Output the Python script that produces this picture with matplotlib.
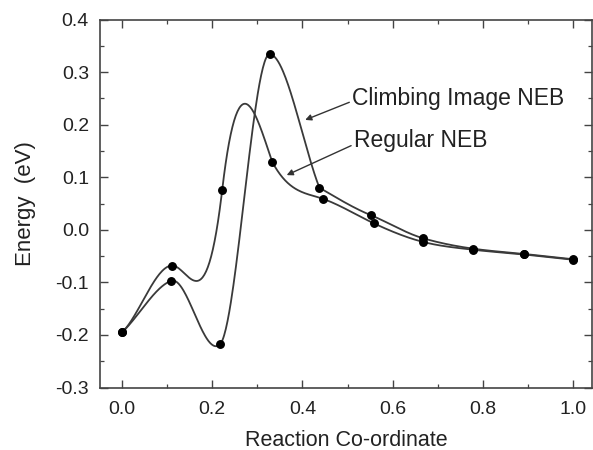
import numpy as np
import matplotlib
matplotlib.use("Agg")
import matplotlib.pyplot as plt
from matplotlib.ticker import MultipleLocator

# ---- data ----
# image positions, energies and tangential slopes (arriving / leaving each image)
ci_x = [0.0, 0.109, 0.217, 0.327, 0.4375, 0.551, 0.667, 0.779, 0.891, 1.0]
ci_energy = [-0.195, -0.097, -0.218, 0.334, 0.080, 0.028, -0.016, -0.036, -0.046, -0.056]
ci_slope_in = [0.8, 0.3, 0.8, 0.0, -2.2, -0.35, -0.25, -0.12, -0.085, -0.09]
ci_slope_out = [0.8, 0.3, 0.8, 0.0, -0.5, -0.35, -0.25, -0.12, -0.085, -0.09]

reg_x = [0.0, 0.111, 0.222, 0.333, 0.445, 0.559, 0.667, 0.779, 0.891, 1.0]
reg_energy = [-0.195, -0.068, 0.076, 0.129, 0.059, 0.012, -0.023, -0.038, -0.047, -0.057]
reg_slope_in = [0.8, 0.0, 7.3, -2.5, -0.3, -0.4, -0.22, -0.1, -0.085, -0.09]
reg_slope_out = [0.8, 0.0, 7.3, -1.6, -0.3, -0.4, -0.22, -0.1, -0.085, -0.09]

x_ticks = [0.0, 0.2, 0.4, 0.6, 0.8, 1.0]
y_ticks = [-0.3, -0.2, -0.1, 0.0, 0.1, 0.2, 0.3, 0.4]


def hermite_path(xs, ys, m_in, m_out, n=60):
    """Cubic Hermite curve through images using energies and tangential slopes."""
    px, py = [], []
    for i in range(len(xs) - 1):
        x0, x1 = xs[i], xs[i + 1]
        h = x1 - x0
        t = np.linspace(0, 1, n)
        h00 = 2 * t**3 - 3 * t**2 + 1
        h10 = t**3 - 2 * t**2 + t
        h01 = -2 * t**3 + 3 * t**2
        h11 = t**3 - t**2
        y = h00 * ys[i] + h10 * h * m_out[i] + h01 * ys[i + 1] + h11 * h * m_in[i + 1]
        px.extend(x0 + t * h)
        py.extend(y)
    return np.array(px), np.array(py)


plt.rcParams['font.family'] = ['Liberation Sans', 'DejaVu Sans']

fig = plt.figure(figsize=(5.93, 4.5), dpi=100)
ax = fig.add_axes([100 / 593, 1 - 387.5 / 450, 492 / 593, 368 / 450])

line_col = '#3a3a3a'
for xs, ys, mi, mo in [(ci_x, ci_energy, ci_slope_in, ci_slope_out),
                       (reg_x, reg_energy, reg_slope_in, reg_slope_out)]:
    cx, cy = hermite_path(xs, ys, mi, mo)
    ax.plot(cx, cy, color=line_col, lw=1.3, zorder=2)
    ax.plot(xs, ys, 'o', color='black', ms=5.4, zorder=3)

ax.set_xlim(-0.049, 1.042)
ax.set_ylim(-0.3, 0.4)
ax.set_xticks(x_ticks)
ax.set_yticks(y_ticks)
ax.set_xticklabels([f"{v:.1f}" for v in x_ticks])
ax.set_yticklabels([f"{v:.1f}" for v in y_ticks])
ax.xaxis.set_minor_locator(MultipleLocator(0.1))
ax.yaxis.set_minor_locator(MultipleLocator(0.05))
ax.tick_params(which='both', direction='in', top=True, right=True, color='#444444')
ax.tick_params(which='major', length=6, width=1.0)
ax.tick_params(which='minor', length=3, width=0.9)
ax.tick_params(axis='x', labelsize=14, pad=10, labelcolor='#222222')
ax.tick_params(axis='y', labelsize=14, pad=8, labelcolor='#222222')
for s in ax.spines.values():
    s.set_linewidth(1.2)
    s.set_color('#444444')

ax.set_xlabel('Reaction Co-ordinate', fontsize=15.5, color='#222222', labelpad=8)
ax.set_ylabel('Energy  (eV)', fontsize=16, color='#222222', labelpad=14)

arrow_kw = dict(arrowstyle='-|>', color='#333333', lw=1.0, mutation_scale=9,
                shrinkA=0, shrinkB=0)
ax.annotate('Climbing Image NEB', xy=(0.406, 0.209), xytext=(0.51, 0.249),
            fontsize=16.5, color='#222222', va='center', ha='left',
            arrowprops=dict(**arrow_kw, relpos=(0, 0.4)))
ax.annotate('Regular NEB', xy=(0.365, 0.104), xytext=(0.514, 0.169),
            fontsize=16.5, color='#222222', va='center', ha='left',
            arrowprops=dict(**arrow_kw, relpos=(0, 0.35)))

fig.savefig('out.png', dpi=100)
